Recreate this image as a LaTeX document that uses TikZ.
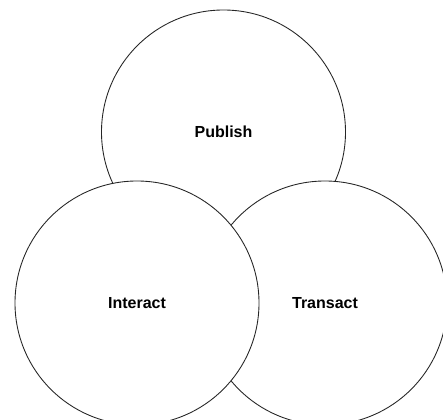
\documentclass[tikz,border=0pt]{standalone}
\usepackage{fontspec}
\setmainfont{Liberation Sans}
\colorlet{myline}{black!85}

\begin{document}
\begin{tikzpicture}
\useasboundingbox (0,0) rectangle (8.86,8.4);
\clip (0,0) rectangle (8.86,8.4);
\tikzset{CircleStyle/.style ={shape=circle, draw=myline, line width=0.5pt, fill=white,
  minimum size=4.88cm, inner sep=0, font=\fontsize{9.1}{11}\selectfont\bfseries}}
\node[CircleStyle] (publish) at (4.47,5.76) {Publish};
\node[CircleStyle] (transact) at (6.5,2.34) {Transact};
\node[CircleStyle] (interact) at (2.74,2.34) {Interact};
\end{tikzpicture}
\end{document}
